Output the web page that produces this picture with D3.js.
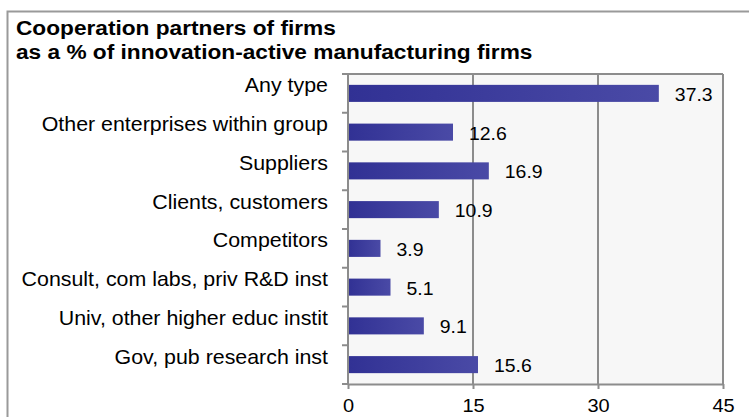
<!DOCTYPE html>
<html>
<head>
<meta charset="utf-8">
<script src="https://cdn.jsdelivr.net/npm/d3@7/dist/d3.min.js"></script>
<style>
  html, body { margin: 0; padding: 0; background: #ffffff; }
  svg { display: block; }
  text { font-family: "Liberation Sans", Arial, sans-serif; fill: #000; }
</style>
</head>
<body>
<svg id="chart" width="749" height="417"></svg>
<script>
// Chart data
const categories = [
  "Any type",
  "Other enterprises within group",
  "Suppliers",
  "Clients, customers",
  "Competitors",
  "Consult, com labs, priv R&D inst",
  "Univ, other higher educ instit",
  "Gov, pub research inst"
];
const values = [37.3, 12.6, 16.9, 10.9, 3.9, 5.1, 9.1, 15.6];
const xTicks = [0, 15, 30, 45];
const titleLines = [
  "Cooperation partners of firms",
  "as a % of innovation-active manufacturing firms"
];

const svg = d3.select("#chart");
const W = 749, H = 417;
const plot = { left: 348, right: 723, top: 74, bottom: 384 };
const SX = 1.08;          // slight horizontal widening of the lettering
const gridColor = "#8c8c8c";

// Places a text at (px, py) with the horizontal widening applied
function placeText(sel, px, py) {
  return sel
    .attr("transform", `scale(${SX},1)`)
    .attr("x", (d, i) => (typeof px === "function" ? px(d, i) : px) / SX)
    .attr("y", py);
}

// Outer frame (open to the right and bottom)
svg.append("path")
  .attr("d", `M7.5,${H} V11.5 H${W}`)
  .attr("fill", "none")
  .attr("stroke", "#9a9a9a")
  .attr("stroke-width", 2);

// Title
svg.append("g").selectAll("text")
  .data(titleLines)
  .join("text")
  .call(placeText, 16, (d, i) => 35 + i * 24)
  .attr("font-size", 21)
  .attr("font-weight", "bold")
  .text(d => d);

const x = d3.scaleLinear().domain([0, 45]).range([plot.left, plot.right]);
const y = d3.scaleBand().domain(categories).range([plot.top, plot.bottom])
  .paddingInner(0.56).paddingOuter(0.28);

// Plot background
svg.append("rect")
  .attr("x", plot.left).attr("y", plot.top)
  .attr("width", plot.right - plot.left).attr("height", plot.bottom - plot.top)
  .attr("fill", "#f7f7f7");

// Vertical gridlines (the last one closes the plot on the right)
svg.append("g").selectAll("line")
  .data(xTicks.slice(1))
  .join("line")
  .attr("x1", d => x(d)).attr("x2", d => x(d))
  .attr("y1", plot.top).attr("y2", plot.bottom)
  .attr("stroke", gridColor).attr("stroke-width", 2);

// Top border of plot
svg.append("line")
  .attr("x1", plot.left).attr("x2", plot.right)
  .attr("y1", plot.top).attr("y2", plot.top)
  .attr("stroke", gridColor).attr("stroke-width", 2);

// Bar gradient
const defs = svg.append("defs");
const grad = defs.append("linearGradient").attr("id", "barGrad")
  .attr("x1", "0%").attr("x2", "100%").attr("y1", "0%").attr("y2", "0%");
grad.append("stop").attr("offset", "0%").attr("stop-color", "#313194");
grad.append("stop").attr("offset", "100%").attr("stop-color", "#4a4aa6");

// Bars
svg.append("g").selectAll("rect")
  .data(values)
  .join("rect")
  .attr("x", x(0))
  .attr("y", (d, i) => y(categories[i]))
  .attr("width", d => x(d) - x(0))
  .attr("height", y.bandwidth())
  .attr("fill", "url(#barGrad)");

// Value labels
svg.append("g").selectAll("text")
  .data(values)
  .join("text")
  .call(placeText, d => x(d) + 16, (d, i) => y(categories[i]) + y.bandwidth() / 2 + 1)
  .attr("dy", "0.36em")
  .attr("font-size", 18)
  .text(d => d.toFixed(1));

// Y axis: line, boundary ticks, category labels
const yAxis = svg.append("g");
yAxis.append("line")
  .attr("x1", plot.left).attr("x2", plot.left)
  .attr("y1", plot.top).attr("y2", plot.bottom)
  .attr("stroke", gridColor).attr("stroke-width", 2);
const step = y.step();
yAxis.selectAll("line.tick")
  .data(d3.range(categories.length + 1))
  .join("line")
  .attr("class", "tick")
  .attr("x1", plot.left - 6).attr("x2", plot.left)
  .attr("y1", i => plot.top + i * step).attr("y2", i => plot.top + i * step)
  .attr("stroke", gridColor).attr("stroke-width", 2);
yAxis.selectAll("text")
  .data(categories)
  .join("text")
  .call(placeText, 328, d => y(d) + y.bandwidth() / 2 - 1)
  .attr("text-anchor", "end")
  .attr("font-size", 19.8)
  .text(d => d);

// X axis
const xAxis = svg.append("g").attr("transform", `translate(0,${plot.bottom})`)
  .call(d3.axisBottom(x).tickValues(xTicks).tickSize(5).tickSizeOuter(0).tickPadding(10));
xAxis.select(".domain").attr("stroke", gridColor).attr("stroke-width", 2);
xAxis.selectAll(".tick line").attr("stroke", gridColor).attr("stroke-width", 2);
xAxis.selectAll(".tick text")
  .attr("transform", `scale(${SX},1)`)
  .attr("font-size", 18.5)
  .attr("font-family", "'Liberation Sans', Arial, sans-serif")
  .attr("fill", "#000");
</script>
</body>
</html>
